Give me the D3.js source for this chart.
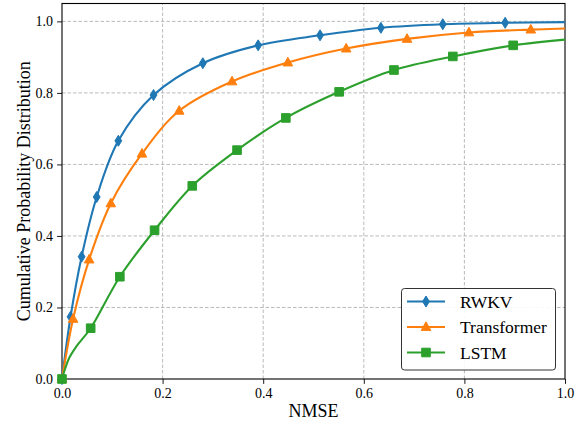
<!DOCTYPE html>
<html>
<head>
<meta charset="utf-8">
<script src="https://cdn.jsdelivr.net/npm/d3@7"></script>
<style>
  body { margin: 0; background: #fff; }
  svg text { font-family: "Liberation Serif", "Times New Roman", Times, "DejaVu Serif", serif !important; }
</style>
</head>
<body>
<div id="chart"></div>
<script>
// values (marker positions)
const seriesNames = ["RWKV", "Transformer", "LSTM"];
const seriesColors = ["#1f77b4", "#ff7f0e", "#2ca02c"];

const rwkvX = [0, 0.017, 0.039, 0.069, 0.112, 0.182, 0.280, 0.390, 0.513, 0.634, 0.757, 0.881, 1.0];
const rwkvY = [0, 0.174, 0.342, 0.509, 0.666, 0.794, 0.883, 0.933, 0.961, 0.982, 0.992, 0.996, 0.998];

const transX = [0, 0.022, 0.054, 0.097, 0.159, 0.233, 0.338, 0.449, 0.565, 0.686, 0.809, 0.932, 1.0];
const transY = [0, 0.168, 0.334, 0.491, 0.630, 0.750, 0.832, 0.885, 0.924, 0.951, 0.969, 0.977, 0.980];

const lstmX = [0, 0.057, 0.115, 0.184, 0.259, 0.348, 0.445, 0.551, 0.660, 0.777, 0.897, 1.0];
const lstmY = [0, 0.142, 0.286, 0.416, 0.540, 0.640, 0.730, 0.803, 0.864, 0.902, 0.933, 0.949];
// extra points on the LSTM line near the origin (no markers there)
const lstmBendX = [0.006, 0.014, 0.029];
const lstmBendY = [0.028, 0.058, 0.092];

// last point of each series is the line end, not a marker
const markerCount = [12, 12, 11];

const xTicks = [0, 0.2, 0.4, 0.6, 0.8, 1.0];
const yTicks = [0, 0.2, 0.4, 0.6, 0.8, 1.0];

const width = 585, height = 424;
const margin = { left: 62, right: 20, top: 3.5, bottom: 45 };
const serif = "'Liberation Serif', 'Times New Roman', Times, serif";

const svg = d3.select("#chart").append("svg")
    .attr("width", width)
    .attr("height", height)
    .attr("font-family", serif);

const x = d3.scaleLinear().domain([0, 1]).range([margin.left, width - margin.right]);
const y = d3.scaleLinear().domain([0, 1.05]).range([height - margin.bottom, margin.top]);

// grid
const grid = svg.append("g");
grid.selectAll(".gx").data(xTicks.slice(1, -1)).enter().append("line")
    .attr("x1", d => x(d)).attr("x2", d => x(d))
    .attr("y1", y(0)).attr("y2", y(1.05))
    .attr("stroke", "#a8a8a8").attr("stroke-width", 0.8).attr("stroke-dasharray", "3.5,2");
grid.selectAll(".gy").data(yTicks.slice(1)).enter().append("line")
    .attr("x1", x(0)).attr("x2", x(1))
    .attr("y1", d => y(d)).attr("y2", d => y(d))
    .attr("stroke", "#a8a8a8").attr("stroke-width", 0.8).attr("stroke-dasharray", "3.5,2");

// axes
const xAxis = svg.append("g")
    .attr("transform", `translate(0,${y(0)})`)
    .call(d3.axisBottom(x).tickValues(xTicks).tickFormat(d3.format(".1f")).tickSizeOuter(0).tickSize(4.9).tickPadding(4));
const yAxis = svg.append("g")
    .attr("transform", `translate(${x(0)},0)`)
    .call(d3.axisLeft(y).tickValues(yTicks).tickFormat(d3.format(".1f")).tickSizeOuter(0).tickSize(4.9).tickPadding(4));
[xAxis, yAxis].forEach(a => {
    a.attr("font-family", serif).attr("font-size", 14);
    a.select(".domain").remove();
    a.selectAll("text").attr("fill", "#000");
    a.selectAll("line").attr("stroke", "#000").attr("stroke-width", 0.9);
});

// frame
svg.append("rect")
    .attr("x", x(0)).attr("y", y(1.05))
    .attr("width", x(1) - x(0)).attr("height", y(0) - y(1.05))
    .attr("fill", "none").attr("stroke", "#000").attr("stroke-width", 1.1);

// labels
svg.append("text")
    .attr("x", (x(0) + x(1)) / 2).attr("y", 417)
    .attr("text-anchor", "middle").attr("font-size", 18)
    .text("NMSE");
svg.append("text")
    .attr("transform", `translate(30,${(y(0) + y(1.05)) / 2}) rotate(-90)`)
    .attr("text-anchor", "middle").attr("font-size", 18)
    .text("Cumulative Probability Distribution");

// marker shapes
const markerPath = [
    () => "M0,-5.5L3.4,0L0,5.5L-3.4,0Z",  // thin diamond
    () => "M0,-5.2L4.8,3.4L-4.8,3.4Z",    // triangle up
    () => "M-4.3,-4.3H4.3V4.3H-4.3Z"      // square
];

const lineGen = d3.line()
    .x(d => x(d[0]))
    .y(d => y(d[1]))
    .curve(d3.curveCatmullRom.alpha(0.5));

const seriesData = [
    { xs: rwkvX, ys: rwkvY, extraX: [], extraY: [] },
    { xs: transX, ys: transY, extraX: [], extraY: [] },
    { xs: lstmX, ys: lstmY, extraX: lstmBendX, extraY: lstmBendY }
];

const plot = svg.append("g");
seriesData.forEach((s, i) => {
    const pts = s.xs.map((v, j) => [v, s.ys[j]])
        .concat(s.extraX.map((v, j) => [v, s.extraY[j]]))
        .sort((a, b) => a[0] - b[0]);
    plot.append("path")
        .datum(pts)
        .attr("d", lineGen)
        .attr("fill", "none")
        .attr("stroke", seriesColors[i])
        .attr("stroke-width", 2.1)
        .attr("stroke-linejoin", "round");
});
seriesData.forEach((s, i) => {
    const marks = s.xs.slice(0, markerCount[i]).map((v, j) => [v, s.ys[j]]);
    plot.selectAll(".m" + i).data(marks).enter().append("path")
        .attr("transform", d => `translate(${x(d[0])},${y(d[1])})`)
        .attr("d", markerPath[i])
        .attr("fill", seriesColors[i])
        .attr("stroke", seriesColors[i])
        .attr("stroke-width", 1);
});

// legend
const legend = svg.append("g");
legend.append("rect")
    .attr("x", 401.5).attr("y", 288.5)
    .attr("width", 154).attr("height", 81.5)
    .attr("rx", 3).attr("ry", 3)
    .attr("fill", "#fff").attr("fill-opacity", 0.9)
    .attr("stroke", "#333").attr("stroke-width", 1);
seriesNames.forEach((name, i) => {
    const cy = 301.5 + i * 25.5;
    legend.append("line")
        .attr("x1", 407).attr("x2", 445)
        .attr("y1", cy).attr("y2", cy)
        .attr("stroke", seriesColors[i]).attr("stroke-width", 2.1);
    legend.append("path")
        .attr("transform", `translate(426,${cy})`)
        .attr("d", markerPath[i])
        .attr("fill", seriesColors[i])
        .attr("stroke", seriesColors[i]);
    legend.append("text")
        .attr("x", 460).attr("y", cy + 6)
        .attr("font-size", 17.5)
        .text(name);
});
</script>
</body>
</html>
